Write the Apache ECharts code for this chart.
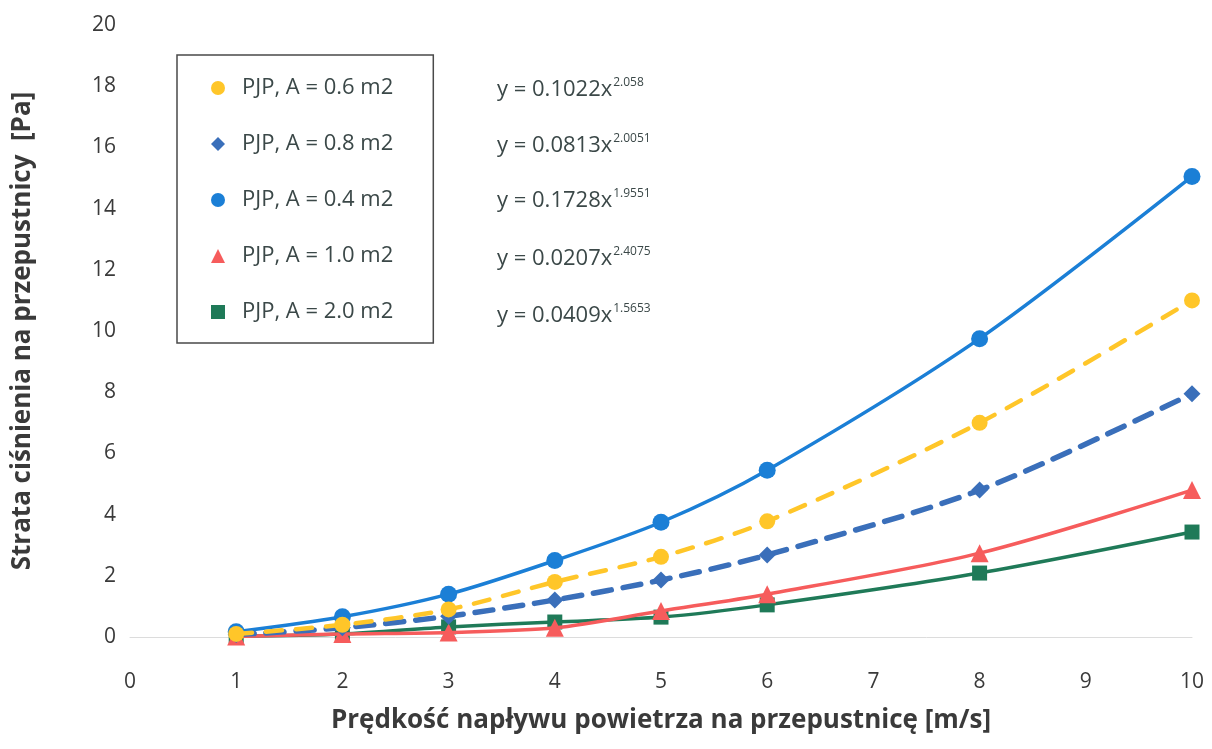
<!DOCTYPE html>
<html>
<head>
<meta charset="utf-8">
<script src="https://cdn.jsdelivr.net/npm/echarts@6/dist/echarts.min.js"></script>
<style>
html,body{margin:0;padding:0;background:#fff;}
#chart{width:1212px;height:749px;}
</style>
</head>
<body>
<div id="chart"></div>
<script>
// ---- data ----
var xValues = [1, 2, 3, 4, 5, 6, 8, 10];
var seriesNames = ['PJP, A = 0.6 m2', 'PJP, A = 0.8 m2', 'PJP, A = 0.4 m2', 'PJP, A = 1.0 m2', 'PJP, A = 2.0 m2'];
var valsA06 = [0.10, 0.40, 0.90, 1.80, 2.62, 3.78, 7.00, 11.00];
var valsA08 = [0.08, 0.30, 0.68, 1.21, 1.86, 2.68, 4.80, 7.95];
var valsA04 = [0.17, 0.66, 1.40, 2.50, 3.75, 5.45, 9.75, 15.05];
var valsA10 = [0.02, 0.10, 0.15, 0.30, 0.85, 1.40, 2.74, 4.80];
var valsA20 = [0.03, 0.10, 0.33, 0.49, 0.65, 1.05, 2.09, 3.43];
var eqCoef = ['0.1022', '0.0813', '0.1728', '0.0207', '0.0409'];
var eqExp = ['2.058', '2.0051', '1.9551', '2.4075', '1.5653'];
var xTicks = [0, 1, 2, 3, 4, 5, 6, 7, 8, 9, 10];
var yTicks = [0, 2, 4, 6, 8, 10, 12, 14, 16, 18, 20];

function pairs(v) { return xValues.map(function (x, i) { return [x, v[i]]; }); }

var colors = ['#ffc629', '#3a6fba', '#1b7fd6', '#f65c5c', '#1f7a58'];
var symbols = ['circle', 'diamond', 'circle', 'triangle', 'rect'];
var symSizes = [16, 17, 17, 18, 15];
var lineTypes = [[16, 14], [18, 12], 'solid', 'solid', 'solid'];
var lineWidths = [4.5, 5.5, 3.5, 3.5, 3.5];
var allVals = [valsA06, valsA08, valsA04, valsA10, valsA20];

var series = seriesNames.map(function (n, i) {
  return {
    name: n,
    type: 'line',
    data: pairs(allVals[i]),
    smooth: 0.3,
    symbol: symbols[i],
    symbolSize: symSizes[i],
    z: 10 - i,
    itemStyle: { color: colors[i] },
    lineStyle: { color: colors[i], width: lineWidths[i], type: lineTypes[i], cap: 'round' }
  };
});

var font = 'Open Sans';
var eqGraphics = eqCoef.map(function (c, i) {
  var ys = [92, 148, 203, 261, 318];
  return {
    type: 'text',
    left: 497,
    top: ys[i] - 15,
    style: {
      text: '{m|y = ' + c + 'x}{s|' + eqExp[i] + '}',
      rich: {
        m: { fontFamily: font, fontSize: 22, fill: '#3b4848', lineHeight: 30 },
        s: { fontFamily: font, fontSize: 12, fill: '#3b4848', padding: [0, 0, 14, 1], lineHeight: 30 }
      }
    }
  };
});

var chart = echarts.init(document.getElementById('chart'), null, { renderer: 'canvas' });
chart.setOption({
  backgroundColor: '#ffffff',
  animation: false,
  grid: { left: 130, right: 20, top: 25, bottom: 112, containLabel: false },
  legend: {
    orient: 'vertical',
    left: 177,
    top: 55,
    data: seriesNames.map(function (n, i) { return { name: n, icon: symbols[i] }; }),
    itemWidth: 14,
    itemHeight: 14,
    itemGap: 34,
    padding: [22, 40, 20, 34],
    borderColor: '#4a4a4a',
    borderWidth: 1.5,
    textStyle: { fontFamily: font, fontSize: 22, color: '#3b4848', padding: [0, 0, 0, 12] }
  },
  xAxis: {
    type: 'value',
    min: 0, max: 10, interval: 1,
    name: 'Prędkość napływu powietrza na przepustnicę [m/s]',
    nameLocation: 'middle',
    nameGap: 71,
    nameTextStyle: { fontFamily: font, fontSize: 26, fontWeight: 'bold', color: '#3a3a3a' },
    axisLine: { show: true, lineStyle: { color: '#dcdcdc', width: 1 } },
    axisTick: { show: false },
    splitLine: { show: false },
    axisLabel: {
      fontFamily: font, fontSize: 21, color: '#3a3a3a', margin: 35,
      formatter: function (v) { return xTicks.indexOf(v) >= 0 ? String(v) : ''; }
    }
  },
  yAxis: {
    type: 'value',
    min: 0, max: 20, interval: 2,
    name: 'Strata ciśnienia na przepustnicy  [Pa]',
    nameLocation: 'middle',
    nameRotate: 90,
    nameGap: 94,
    nameTextStyle: { fontFamily: font, fontSize: 26, fontWeight: 'bold', color: '#3a3a3a' },
    axisLine: { show: false },
    axisTick: { show: false },
    splitLine: { show: false },
    axisLabel: {
      fontFamily: font, fontSize: 21, color: '#3a3a3a', margin: 14,
      formatter: function (v) { return yTicks.indexOf(v) >= 0 ? String(v) : ''; }
    }
  },
  graphic: eqGraphics,
  series: series
});
</script>
</body>
</html>
